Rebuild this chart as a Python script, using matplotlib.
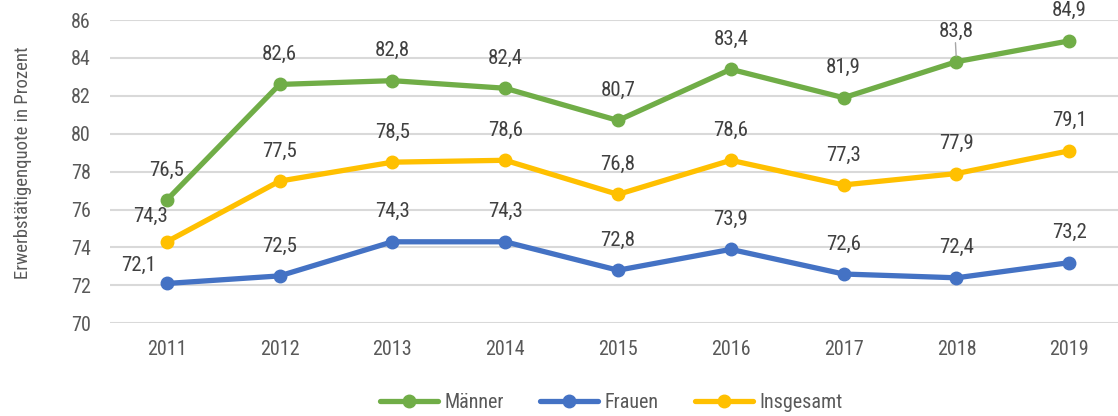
import matplotlib
matplotlib.use("Agg")
import matplotlib.pyplot as plt
from matplotlib import font_manager

# Daten
jahre = ["2011", "2012", "2013", "2014", "2015", "2016", "2017", "2018", "2019"]
maenner = [76.5, 82.6, 82.8, 82.4, 80.7, 83.4, 81.9, 83.8, 84.9]
frauen = [72.1, 72.5, 74.3, 74.3, 72.8, 73.9, 72.6, 72.4, 73.2]
insgesamt = [74.3, 77.5, 78.5, 78.6, 76.8, 78.6, 77.3, 77.9, 79.1]
y_ticks = [70, 72, 74, 76, 78, 80, 82, 84, 86]

# schmale Schrift suchen, falls vorhanden
fam, stretch = "DejaVu Sans", "normal"
fonts = font_manager.fontManager.ttflist
namen = {f.name for f in fonts}
for kand in ["Liberation Sans Narrow", "Roboto Condensed", "Open Sans Condensed",
             "Noto Sans Condensed", "DejaVu Sans Condensed"]:
    if kand in namen:
        fam = kand
        break
else:
    for bevorzugt in ["DejaVu Sans", "Noto Sans", "Open Sans", "Roboto", "Liberation Sans"]:
        cond = [f for f in fonts if f.name == bevorzugt and f.weight in (400, "normal")
                and f.stretch in ("condensed", "semi-condensed", 87.5, 75)]
        if cond:
            fam, stretch = bevorzugt, cond[0].stretch
            break

plt.rcParams['font.family'] = [fam, 'DejaVu Sans']
plt.rcParams['font.stretch'] = stretch

W, H = 1118, 416
fig = plt.figure(figsize=(W / 100, H / 100), dpi=100)
left, right = 110.3, 1125.7
top, bottom = 20.0, 323.3
ax = fig.add_axes([left / W, 1 - bottom / H, (right - left) / W, (bottom - top) / H])

serien = [
    ("Männer", maenner, "#70AD47"),
    ("Frauen", frauen, "#4472C4"),
    ("Insgesamt", insgesamt, "#FFC000"),
]
x = list(range(len(jahre)))

for name, werte, farbe in serien:
    ax.plot(x, werte, color=farbe, lw=3.8, marker="o", ms=9, label=name,
            solid_capstyle="round", zorder=3)

# Datenbeschriftungen (ca. 30 px oberhalb des Punktes, 2011 etwas verschoben)
sonder = {("Insgesamt", 0): (-16, 25), ("Frauen", 0): (-28, 18)}
for name, werte, farbe in serien:
    for i, v in enumerate(werte):
        dx, dy = sonder.get((name, i), (0, 30))
        ax.annotate(f"{v:.1f}".replace(".", ","), (i, v), xytext=(dx, dy),
                    textcoords="offset pixels", ha="center", va="center",
                    fontsize=15, color="#404040", zorder=4)

# Führungslinie bei 83,8
ax.annotate("", (7, maenner[7]), xytext=(-1, 19), textcoords="offset pixels",
            arrowprops=dict(arrowstyle="-", color="#A6A6A6", lw=1,
                            shrinkA=0, shrinkB=4))

ax.set_xlim(-0.5, len(jahre) - 0.5)
ax.set_ylim(70, 86)
ax.set_yticks(y_ticks)
ax.set_xticks(x)
ax.set_xticklabels(jahre)
ax.tick_params(axis="both", length=0, labelsize=14.5, colors="#595959")
ax.tick_params(axis="y", pad=14)
ax.tick_params(axis="x", pad=12)
ax.grid(axis="y", color="#D9D9D9", lw=1.5)
ax.set_axisbelow(True)
for s in ax.spines.values():
    s.set_visible(False)

ax.set_ylabel("Erwerbstätigenquote in Prozent", fontsize=13.5, color="#595959")
ax.yaxis.set_label_coords((32 - left) / (right - left), (bottom - 162.5) / (bottom - top))

fig.legend(loc="center", bbox_to_anchor=(611 / W, 1 - 403 / H), ncol=3,
           frameon=False, fontsize=14.5, handlelength=2.9, handletextpad=0.3,
           columnspacing=1.8, labelcolor="#595959")

fig.savefig("out.png", dpi=100)
